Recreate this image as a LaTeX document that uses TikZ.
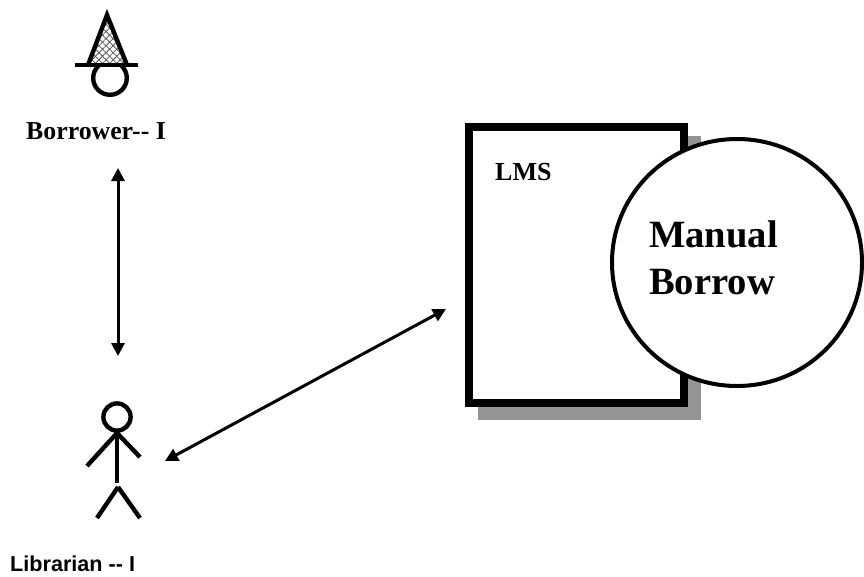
\documentclass[tikz,border=0pt]{standalone}
\usepackage{fontspec}
\setmainfont{Liberation Serif}
\newfontfamily\arialfont{Liberation Sans}
\usetikzlibrary{arrows.meta,patterns.meta,shapes.geometric}
\tikzset{
  every picture/.style={x=1pt,y=-1pt,line join=miter},
  figure/.style={draw=black,line width=4.4pt},
  label/.style={anchor=base west,inner sep=0pt,font=\bfseries},
  link/.style={draw=black,line width=3pt,{Stealth[length=13pt,width=13pt,inset=0pt]}-{Stealth[length=13pt,width=13pt,inset=0pt]}},
}
\begin{document}
\begin{tikzpicture}
\useasboundingbox (0,0) rectangle (864,576);
% borrower
\draw[figure] (110,78) circle[radius=16.8];
\fill[white] (88,65) -- (107,15) -- (127,65) -- cycle;
\fill[pattern={Lines[angle=45,distance=5pt,line width=0.8pt]},pattern color=black!65] (88,63) -- (107,15) -- (127,63) -- cycle;
\fill[pattern={Lines[angle=-45,distance=5pt,line width=0.8pt]},pattern color=black!65] (88,63) -- (107,15) -- (127,63) -- cycle;
\draw[figure] (88,65) -- (107,15) -- (127,65);
\draw[draw=black,line width=4.6pt] (75,65) -- (138,65);
\node[label,font=\bfseries\fontsize{25.8}{28}\selectfont] (borrower) at (26,139) {Borrower-{}- I};
% librarian
\draw[figure] (117,417) circle[radius=13.6];
\draw[figure] (117,431) -- (117,483);
\draw[figure] (117,433) -- (87,466);
\draw[figure] (117,433) -- (140,457);
\draw[figure] (118,487) -- (97,518);
\draw[figure] (118,487) -- (140,518);
\node[label,font=\arialfont\bfseries\fontsize{21.6}{25}\selectfont] (librarian) at (10,571) {Librarian -{}- I};
% LMS box
\fill[black!42] (478,136) rectangle (701,420);
\draw[draw=black,fill=white,line width=8pt] (469,127) rectangle (684,403);
\node[label,font=\bfseries\fontsize{26}{28}\selectfont] (lms) at (495,180) {LMS};
% circle
\node[ellipse,draw=black,fill=white,line width=4pt,minimum width=250pt,minimum height=247pt,inner sep=0pt] (manual) at (737,262.5) {};
\node[label,font=\bfseries\fontsize{38.6}{47}\selectfont] (m1) at (649,247) {Manual};
\node[label,font=\bfseries\fontsize{38.6}{47}\selectfont] (m2) at (649,294) {Borrow};
% connectors
\coordinate (a1) at (118,168);
\coordinate (a2) at (118,356);
\coordinate (b1) at (446,309);
\coordinate (b2) at (165,461);
\draw[link] (a1) -- (a2);
\draw[link] (b1) -- (b2);
\end{tikzpicture}
\end{document}
